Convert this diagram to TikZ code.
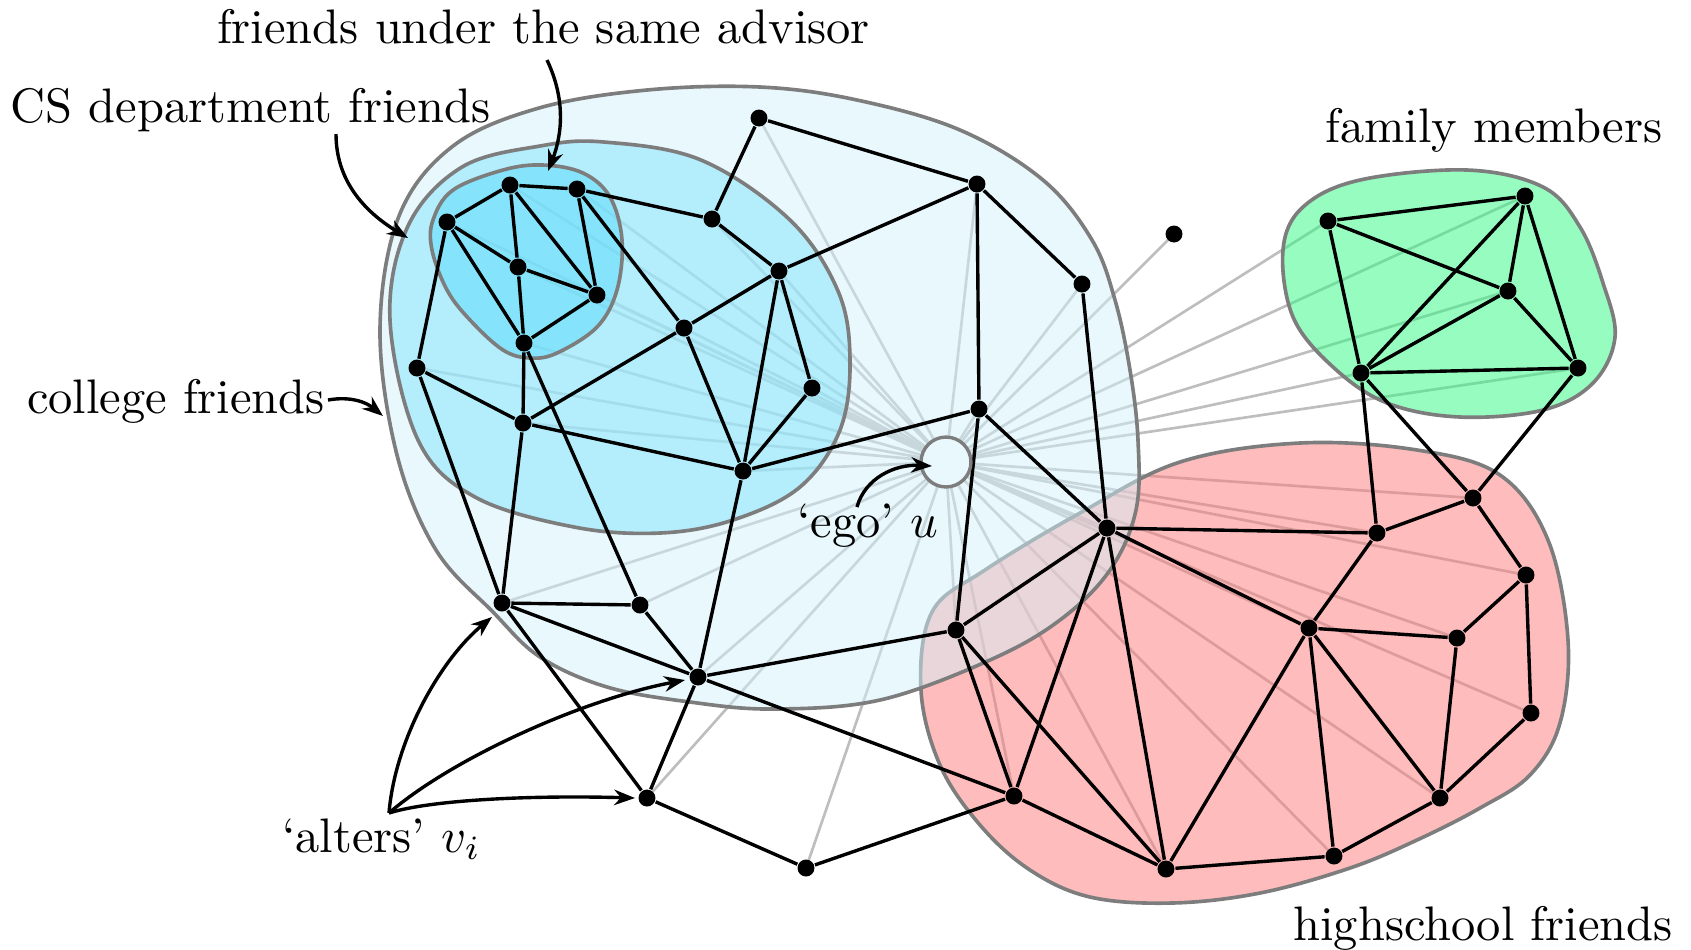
\documentclass[tikz,border=0pt]{standalone}
\usetikzlibrary{arrows.meta}
\pgfdeclarelayer{lines}
\pgfdeclarelayer{groups}
\pgfdeclarelayer{edges}
\pgfsetlayers{lines,groups,edges,main}
\definecolor{collegeC}{RGB}{209,241,251}
\definecolor{csC}{RGB}{128,226,251}
\definecolor{advC}{RGB}{88,219,250}
\definecolor{famC}{RGB}{45,249,129}
\definecolor{hsC}{RGB}{255,121,121}
\definecolor{egoFill}{RGB}{232,248,253}
\definecolor{outlineC}{RGB}{125,125,125}
\definecolor{altC}{RGB}{190,190,190}
\begin{document}
\begin{tikzpicture}[x=0.2063pt,y=-0.2063pt,
  dot/.style={circle,fill=black,inner sep=0pt,minimum size=3.5pt},
  egonode/.style={circle,draw=outlineC,fill=egoFill,line width=0.7pt,inner sep=0pt,minimum size=10.3pt},
  tie/.style={line width=0.7pt,black},
  alterline/.style={line width=0.55pt,altC},
  blob/.style={draw=outlineC,line width=0.75pt,fill opacity=0.5},
  lab/.style={anchor=base,inner sep=0pt,font=\fontsize{10}{12}\selectfont},
  pointer/.style={line width=0.7pt,-{Stealth[length=4.3pt,width=3.2pt]}}]
\useasboundingbox (0,0) rectangle (1691,949);

% nodes
\node[egonode] (ego) at (946,462) {};
\foreach \n/\p in {s1/{510,185},s2/{577,189},s3/{447,222},s4/{518,267},s5/{597,295},s6/{524,343},
  a1/{759,118},a2/{977,184},a3/{712,219},a4/{1082,284},a5/{1174,234},
  b1/{779,271},b2/{684,328},b3/{812,388},b4/{417,368},b5/{523,423},b6/{743,471},
  c1/{979,409},c2/{1107,528},
  d1/{502,603},d2/{640,605},d3/{698,677},d4/{956,630},d5/{647,798},d6/{806,868},
  h1/{1014,796},h2/{1166,869},h3/{1309,628},h4/{1377,533},h5/{1473,498},h6/{1526,575},
  h7/{1457,638},h8/{1531,713},h9/{1440,798},h10/{1334,856},
  f1/{1328,221},f2/{1525,196},f3/{1508,291},f4/{1361,373},f5/{1578,368}}
  \node[dot] (\n) at (\p) {};

% ego-alter lines
\begin{pgfonlayer}{lines}
\foreach \n in {s1,s2,s3,s4,s5,s6,a1,a2,a3,a4,a5,b1,b2,b3,b4,b5,b6,c1,c2,d1,d2,d3,d4,d5,d6,
  h1,h2,h3,h4,h5,h6,h7,h8,h9,h10,f1,f2,f3,f4,f5}
  \draw[alterline] (ego.center) -- (\n.center);
\end{pgfonlayer}

% groups
\begin{pgfonlayer}{groups}
\draw[blob,fill=hsC] plot[smooth cycle,tension=0.6] coordinates {(921,690) (932,612) (985,570) (1080,513) (1180,462) (1300,443) (1417,450) (1500,475) (1548,540) (1568,640) (1560,723) (1530,775) (1480,808) (1417,840) (1350,868) (1260,893) (1172,903) (1090,897) (1030,870) (980,825) (940,765)};
\draw[blob,fill=famC] plot[smooth cycle,tension=0.6] coordinates {(1283,250) (1303,207) (1360,180) (1467,170) (1543,187) (1580,227) (1603,283) (1615,337) (1593,383) (1543,410) (1460,417) (1387,403) (1333,367) (1293,317)};
\draw[blob,fill=collegeC] plot[smooth cycle,tension=0.6] coordinates {(380,330) (399,216) (453,146) (539,108) (647,90) (760,87) (857,100) (960,130) (1043,180) (1092,240) (1115,300) (1130,370) (1138,440) (1136,510) (1110,570) (1060,620) (990,660) (880,700) (773,709) (690,702) (607,687) (540,657) (493,612) (436,550) (397,455)};
\draw[blob,fill=csC] plot[smooth cycle,tension=0.6] coordinates {(390,320) (408,226) (462,167) (540,146) (604,142) (701,160) (790,220) (838,291) (850,360) (840,430) (800,487) (733,520) (660,533) (574,527) (475,497) (418,440)};
\draw[blob,fill=advC] plot[smooth cycle,tension=0.6] coordinates {(433,220) (453,190) (503,170) (543,165) (583,173) (610,197) (622,240) (617,290) (597,327) (557,353) (530,358) (503,350) (470,320) (447,290) (432,250)};
\end{pgfonlayer}

% friendship edges
\begin{pgfonlayer}{edges}
\foreach \a/\b in {s1/s2,s1/s3,s1/s4,s1/s5,s2/s5,s2/a3,s2/b2,s3/s4,s3/s6,s3/b4,s4/s5,s4/s6,s5/s6,s6/b5,s6/d2,
  a3/a1,a3/b1,a1/a2,a2/b1,a2/a4,a2/c1,a4/c2,
  b1/b2,b1/b6,b1/b3,b2/b5,b2/b6,b3/b6,b4/b5,b4/d1,b5/b6,b5/d1,b6/c1,b6/d3,
  c1/d4,c1/c2,c2/d4,c2/h1,c2/h2,c2/h4,c2/h3,
  d4/h1,d4/h2,d4/d3,d1/d2,d1/d3,d1/d5,d3/d5,d3/h1,d2/d3,d5/d6,d6/h1,
  h1/h2,h2/h3,h2/h10,h3/h4,h3/h7,h3/h9,h3/h10,h4/h5,h5/h6,h6/h7,h7/h9,h6/h8,h8/h9,h9/h10,
  f1/f2,f1/f3,f1/f4,f2/f3,f2/f4,f2/f5,f3/f4,f3/f5,f4/f5,f4/h4,f4/h5,f5/h5}
  \draw[tie] (\a) -- (\b);
\end{pgfonlayer}

% labels
\node[lab] (advlab) at (543.5,43) {friends under the same advisor};
\node[lab] (cslab) at (250.5,122) {CS department friends};
\node[lab] (collab) at (176,413) {college friends};
\node[lab] (famlab) at (1494,142) {family members};
\node[lab] (hslab) at (1483,940) {highschool friends};
\node[lab] (egolab) at (867.5,537) {`ego' $u$};
\node[lab] (altlab) at (381.6,852) {`alters' $v_i$};

% pointers
\coordinate (advS) at (547,60);
\coordinate (advT) at (548,171);
\coordinate (csS) at (336,134);
\coordinate (csT) at (408,238);
\coordinate (colS) at (328,400);
\coordinate (colT) at (383,416);
\coordinate (egoS) at (857,507);
\coordinate (egoT) at (932,466);
\coordinate (altS) at (389,813);
\draw[pointer] (advS) .. controls (566,100) and (562,135) .. (advT);
\draw[pointer] (csS) .. controls (336,185) and (370,215) .. (csT);
\draw[pointer] (colS) .. controls (350,396) and (366,402) .. (colT);
\draw[pointer] (egoS) .. controls (865,478) and (895,464) .. (egoT);
\draw[pointer] (altS) .. controls (395,740) and (440,660) .. ([shift={(-10,14)}]d1.center);
\draw[pointer] (altS) .. controls (450,760) and (580,700) .. ([shift={(-13,3)}]d3.center);
\draw[pointer] (altS) .. controls (430,800) and (530,795) .. ([shift={(-12,0)}]d5.center);
\end{tikzpicture}
\end{document}
